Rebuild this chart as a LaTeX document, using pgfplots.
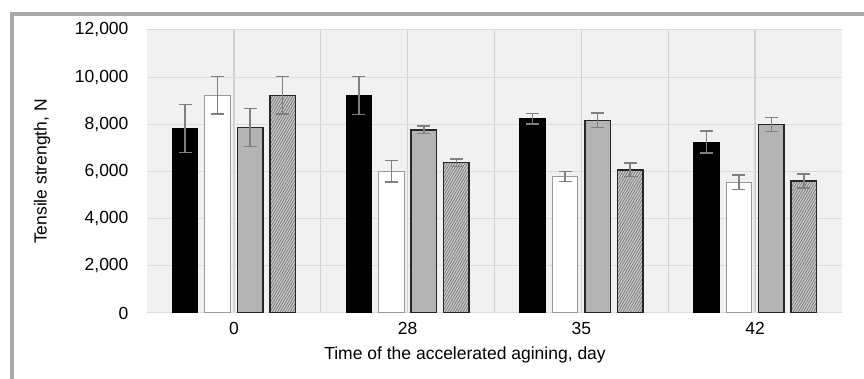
\documentclass[border=0pt]{standalone}
\usepackage{fontspec}
\setmainfont{Liberation Sans}
\usepackage{pgfplots}
\pgfplotsset{compat=1.18}
\usetikzlibrary{patterns.meta}
\definecolor{frame}{HTML}{A8A8A8}
\definecolor{bgc}{HTML}{F1F1F1}
\definecolor{gridc}{HTML}{DCDCDC}
\definecolor{vgridc}{HTML}{D2D2D2}
\definecolor{barg}{HTML}{B4B4B4}
\definecolor{hatchbg}{HTML}{CACACA}
\definecolor{errc}{HTML}{808080}
\newcommand{\lbl}{\fontsize{17.5}{21}\selectfont}
\begin{document}
\begin{tikzpicture}
\useasboundingbox (-147pt,-66pt) rectangle (717pt,313pt);
\fill[white] (-147pt,-66pt) rectangle (717pt,313pt);
\draw[line width=4pt, color=frame] (-135pt,-66pt) -- (-135pt,299pt) -- (717pt,299pt);
\begin{axis}[
  anchor=south west,
  scale only axis, width=695pt, height=283pt,
  xmin=-0.5, xmax=3.5, ymin=0, ymax=12000,
  ybar=7pt, bar width=25.5pt,
  axis background/.style={fill=bgc},
  axis line style={draw=none},
  major tick length=0pt, minor tick length=0pt,
  xtick={0,1,2,3}, xticklabels={0,28,35,42},
  minor xtick={0.5,1.5,2.5},
  xmajorgrids, xminorgrids, ymajorgrids,
  x grid style={vgridc, line width=1.5pt},
  minor x grid style={vgridc, line width=1.5pt},
  y grid style={gridc, line width=1pt},
  ytick={0,2000,4000,6000,8000,10000,12000},
  scaled y ticks=false,
  /pgf/number format/1000 sep={,},
  /pgf/number format/assume math mode=true,
  tick label style={font=\lbl},
  xticklabel style={anchor=center, yshift=-15pt},
  yticklabel style={anchor=east, xshift=-15pt},
  every axis x label/.style={at={(axis description cs:0.4576,-0.148)}, anchor=center, font=\lbl},
  every axis y label/.style={at={(axis description cs:-0.151,0.5)}, anchor=center, rotate=90, font=\lbl},
  xlabel={Time of the accelerated agining, day},
  ylabel={Tensile strength, N},
  error bars/y dir=both, error bars/y explicit,
  error bars/error bar style={errc, line width=1.5pt},
  error bars/error mark options={rotate=90, errc, mark size=6.5pt, line width=1.5pt},
]
\addplot[fill=black, draw=black, line width=0.8pt] coordinates {
  (0,7830) +- (0,1020)
  (1,9220) +- (0,810)
  (2,8240) +- (0,220)
  (3,7250) +- (0,460)
};
\addplot[fill=white, draw=gray!80, line width=1.2pt] coordinates {
  (0,9230) +- (0,790)
  (1,6010) +- (0,460)
  (2,5790) +- (0,210)
  (3,5550) +- (0,305)
};
\addplot[fill=barg, draw=black!85, line width=1.5pt] coordinates {
  (0,7870) +- (0,810)
  (1,7770) +- (0,150)
  (2,8170) +- (0,300)
  (3,7990) +- (0,295)
};
\addplot[fill=hatchbg, draw=black!85, line width=1.5pt,
  postaction={pattern={Lines[angle=60, distance=2.2pt, line width=0.7pt]}, pattern color=black!55}] coordinates {
  (0,9230) +- (0,800)
  (1,6380) +- (0,160)
  (2,6070) +- (0,285)
  (3,5600) +- (0,300)
};
\end{axis}
\end{tikzpicture}
\end{document}
